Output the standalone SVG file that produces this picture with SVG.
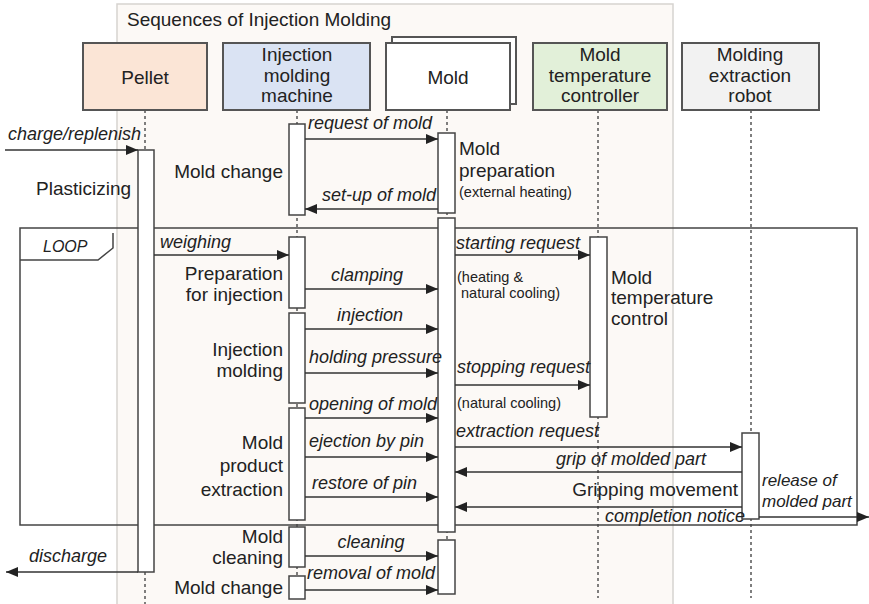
<svg xmlns="http://www.w3.org/2000/svg" width="869" height="604" viewBox="0 0 869 604">
  <style>
    .panel { fill: #fcf9f6; stroke: #d6d3d0; stroke-width: 1.5; }
    .head { stroke: #555; stroke-width: 2; }
    .life { stroke: #555; stroke-width: 1.5; stroke-dasharray: 3 3; fill: none; }
    .act { fill: #fff; stroke: #444; stroke-width: 1.5; }
    .msg { stroke: #333; stroke-width: 1.5; fill: none; marker-end: url(#ah); }
    .frame { fill: none; stroke: #444; stroke-width: 1.5; }
    text { font-family: "Liberation Sans", Arial, sans-serif; fill: #222; }
    .t { font-size: 19px; }
    .hd { font-size: 19px; text-anchor: middle; }
    .lbl { font-size: 18px; font-style: italic; }
    .sm { font-size: 14.5px; }
    .r { text-anchor: end; }
    .c { text-anchor: middle; }
  </style>
  <defs>
    <marker id="ah" viewBox="0 0 12 10" refX="12" refY="5" markerWidth="12" markerHeight="10" markerUnits="userSpaceOnUse" orient="auto">
      <path d="M0,0 L12,5 L0,10 z" fill="#222"/>
    </marker>
  </defs>

  <!-- background panel -->
  <rect class="panel" x="117" y="4" width="556" height="602"/>
  <text class="t" x="127" y="26">Sequences of Injection Molding</text>

  <!-- lifelines -->
  <g id="lifelines">
    <line class="life" x1="145" y1="110" x2="145" y2="604"/>
    <line class="life" x1="297" y1="110" x2="297" y2="600"/>
    <line class="life" x1="447" y1="110" x2="447" y2="596"/>
    <line class="life" x1="598" y1="110" x2="598" y2="598"/>
    <line class="life" x1="751" y1="110" x2="751" y2="598"/>
  </g>

  <!-- loop frame -->
  <g id="loop">
    <rect class="frame" x="20" y="228" width="837" height="297"/>
    <path class="frame" d="M113,233 L113,248 L98,260 L20,260"/>
    <text class="lbl" x="43" y="252" style="font-size:16px">LOOP</text>
  </g>

  <!-- lifeline heads -->
  <g id="pellet">
    <rect class="head" x="83" y="43" width="124" height="67" fill="#fbe5d6"/>
    <text class="hd" x="145" y="84">Pellet</text>
    <rect class="act" x="138" y="150" width="16" height="422"/>
  </g>
  <g id="machine">
    <rect class="head" x="223" y="43" width="147" height="67" fill="#dae3f3"/>
    <text class="hd" x="297" y="61">Injection</text>
    <text class="hd" x="297" y="82">molding</text>
    <text class="hd" x="297" y="102">machine</text>
    <rect class="act" x="289" y="124" width="16" height="91"/>
    <rect class="act" x="289" y="237" width="16" height="71"/>
    <rect class="act" x="289" y="313" width="16" height="90"/>
    <rect class="act" x="289" y="408" width="16" height="112"/>
    <rect class="act" x="289" y="527" width="16" height="40"/>
    <rect class="act" x="289" y="576" width="16" height="23"/>
  </g>
  <g id="mold">
    <rect class="head" x="392" y="37" width="124" height="67" fill="#fff"/>
    <rect class="head" x="386" y="43" width="124" height="67" fill="#fff"/>
    <text class="hd" x="448" y="84">Mold</text>
    <rect class="act" x="438" y="133" width="17" height="80"/>
    <rect class="act" x="438" y="218" width="17" height="314"/>
    <rect class="act" x="438" y="540" width="17" height="54"/>
  </g>
  <g id="temp-controller">
    <rect class="head" x="533" y="43" width="134" height="67" fill="#e2f0d9"/>
    <text class="hd" x="600" y="61">Mold</text>
    <text class="hd" x="600" y="82">temperature</text>
    <text class="hd" x="600" y="102">controller</text>
    <rect class="act" x="590" y="237" width="17" height="180"/>
  </g>
  <g id="robot">
    <rect class="head" x="682" y="43" width="137" height="67" fill="#f2f2f2"/>
    <text class="hd" x="750" y="61">Molding</text>
    <text class="hd" x="750" y="82">extraction</text>
    <text class="hd" x="750" y="102">robot</text>
    <rect class="act" x="742" y="433" width="17" height="86"/>
  </g>

  <!-- messages -->
  <g id="connectors">
    <line class="msg" x1="5" y1="150" x2="138" y2="150"/>
    <line class="msg" x1="305" y1="139" x2="438" y2="139"/>
    <line class="msg" x1="438" y1="209" x2="305" y2="209"/>
    <line class="msg" x1="154" y1="255" x2="289" y2="255"/>
    <line class="msg" x1="305" y1="289" x2="438" y2="289"/>
    <line class="msg" x1="305" y1="329" x2="438" y2="329"/>
    <line class="msg" x1="305" y1="373" x2="438" y2="373"/>
    <line class="msg" x1="305" y1="418" x2="438" y2="418"/>
    <line class="msg" x1="305" y1="457" x2="438" y2="457"/>
    <line class="msg" x1="305" y1="497" x2="438" y2="497"/>
    <line class="msg" x1="305" y1="556" x2="438" y2="556"/>
    <line class="msg" x1="305" y1="590" x2="438" y2="590"/>
    <line class="msg" x1="138" y1="572" x2="6" y2="572"/>
    <line class="msg" x1="455" y1="255" x2="590" y2="255"/>
    <line class="msg" x1="455" y1="385" x2="590" y2="385"/>
    <line class="msg" x1="455" y1="447" x2="742" y2="447"/>
    <line class="msg" x1="742" y1="472" x2="455" y2="472"/>
    <line class="msg" x1="742" y1="507" x2="455" y2="507"/>
    <line class="msg" x1="759" y1="517" x2="869" y2="517"/>
  </g>

  <!-- message labels -->
  <g id="message-labels">
    <text class="lbl" x="8" y="140">charge/replenish</text>
    <text class="lbl" x="308" y="129">request of mold</text>
    <text class="lbl" x="322" y="201">set-up of mold</text>
    <text class="lbl" x="160" y="248">weighing</text>
    <text class="lbl c" x="367" y="281">clamping</text>
    <text class="lbl c" x="370" y="321">injection</text>
    <text class="lbl" x="309" y="363">holding pressure</text>
    <text class="lbl" x="309" y="410">opening of mold</text>
    <text class="lbl" x="309" y="447">ejection by pin</text>
    <text class="lbl" x="312" y="489">restore of pin</text>
    <text class="lbl c" x="371" y="548">cleaning</text>
    <text class="lbl" x="307" y="579">removal of mold</text>
    <text class="lbl" x="29" y="562">discharge</text>
    <text class="lbl" x="456" y="249">starting request</text>
    <text class="lbl" x="457" y="373">stopping request</text>
    <text class="lbl" x="456" y="437">extraction request</text>
    <text class="lbl" x="556" y="465">grip of molded part</text>
    <text class="lbl" x="605" y="522">completion notice</text>
    <text class="lbl" x="762" y="486" style="font-size:17px">release of</text>
    <text class="lbl" x="762" y="507" style="font-size:17px">molded part</text>
  </g>

  <!-- activity notes -->
  <g id="activity-notes">
    <text class="t r" x="283" y="178">Mold change</text>
    <text class="t" x="36" y="195">Plasticizing</text>
    <text class="t" x="459" y="155">Mold</text>
    <text class="t" x="459" y="177">preparation</text>
    <text class="sm" x="459" y="197">(external heating)</text>
    <text class="t r" x="283" y="280">Preparation</text>
    <text class="t r" x="283" y="301">for injection</text>
    <text class="t r" x="283" y="356">Injection</text>
    <text class="t r" x="283" y="377">molding</text>
    <text class="t r" x="283" y="449">Mold</text>
    <text class="t r" x="283" y="472">product</text>
    <text class="t r" x="283" y="496">extraction</text>
    <text class="t r" x="283" y="543">Mold</text>
    <text class="t r" x="283" y="564">cleaning</text>
    <text class="t r" x="283" y="594">Mold change</text>
    <text class="sm" x="457" y="282">(heating &amp;</text>
    <text class="sm" x="461" y="298">natural cooling)</text>
    <text class="sm" x="457" y="408">(natural cooling)</text>
    <text class="t" x="611" y="284">Mold</text>
    <text class="t" x="611" y="304">temperature</text>
    <text class="t" x="611" y="325">control</text>
    <text class="t r" x="738" y="496">Gripping movement</text>
  </g>
</svg>
